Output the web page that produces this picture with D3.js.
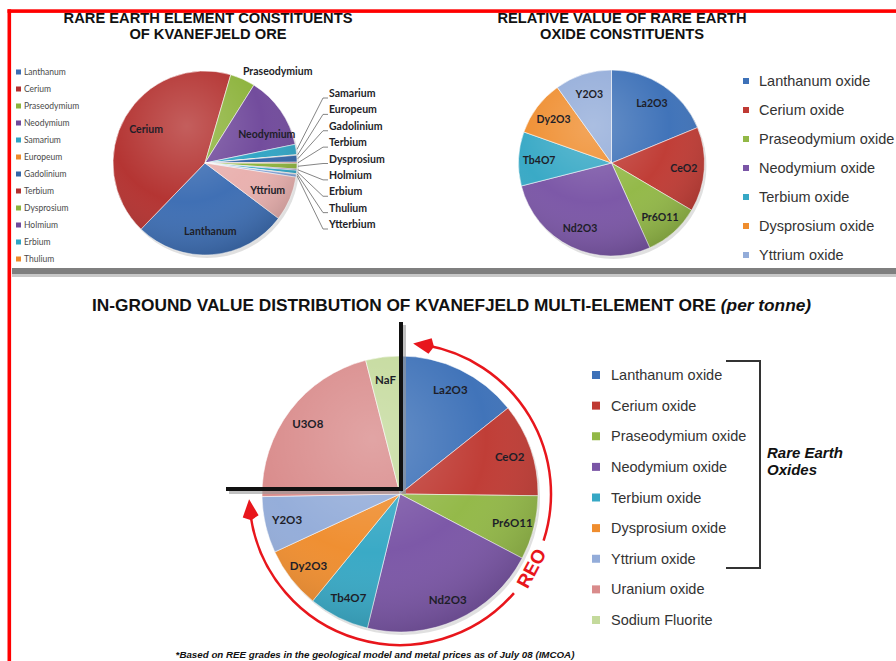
<!DOCTYPE html>
<html>
<head>
<meta charset="utf-8">
<script src="https://cdn.jsdelivr.net/npm/d3@7"></script>
<style>
  body { margin: 0; background: #fff; }
  svg { display: block; }
</style>
</head>
<body>
<div id="chart"></div>
<script>
// ---- data ----
const elements = ["Lanthanum", "Cerium", "Praseodymium", "Neodymium", "Samarium", "Europeum", "Gadolinium",
    "Terbium", "Dysprosium", "Holmium", "Erbium", "Thulium", "Ytterbium", "Yttrium"];
const elementShare = [26.9, 42.2, 4.4, 12.8, 1.8, 0.1, 1.2, 0.2, 1.0, 0.2, 0.6, 0.1, 0.5, 7.8];
const elementLegend = elements.slice(0, 12); // legend is cut off after Thulium
const calloutElements = elements.slice(4, 13);

const oxideCodes = ["La2O3", "CeO2", "Pr6O11", "Nd2O3", "Tb4O7", "Dy2O3", "Y2O3"];
const oxideNames = ["Lanthanum oxide", "Cerium oxide", "Praseodymium oxide", "Neodymium oxide",
    "Terbium oxide", "Dysprosium oxide", "Yttrium oxide"];
const oxideValue = [18.8, 14.7, 9.8, 27.8, 9.4, 9.7, 9.9];

const oreCodes = ["La2O3", "CeO2", "Pr6O11", "Nd2O3", "Tb4O7", "Dy2O3", "Y2O3", "U3O8", "NaF"];
const oreNames = ["Lanthanum oxide", "Cerium oxide", "Praseodymium oxide", "Neodymium oxide",
    "Terbium oxide", "Dysprosium oxide", "Yttrium oxide", "Uranium oxide", "Sodium Fluorite"];
const oreValue = [14.3, 10.9, 7.5, 21.1, 7.1, 7.2, 6.6, 21.3, 4.0];

// ---- colours ----
const elementColors = ["#3c6db3", "#b3312f", "#8db33c", "#70499b", "#2fa4c4", "#ee8a2b", "#3465a8",
    "#b3312f", "#8db33c", "#70499b", "#2fa4c4", "#ee8a2b", "#7d9fd6", "#e9b0ae"];
const oxideColors = ["#3d71b8", "#bf3a33", "#92b846", "#7a55a6", "#36a8c5", "#ef8d2e", "#93acd9"];
const oreColors = oxideColors.concat(["#d98b8b", "#c4da9c"]);

const width = 896;
const height = 661;
const arial = "'Liberation Sans', Arial, sans-serif";
const calibri = "Lato, 'Open Sans', sans-serif";
const deg = Math.PI / 180;

const svg = d3.select('#chart')
    .append('svg')
    .attr('width', width)
    .attr('height', height)

const defs = svg.append('defs');
const gloss = defs.append('radialGradient').attr('id', 'gloss')
    .attr('cx', '40%').attr('cy', '30%').attr('r', '75%');
gloss.append('stop').attr('offset', '0%').attr('stop-color', '#fff').attr('stop-opacity', 0.22);
gloss.append('stop').attr('offset', '55%').attr('stop-color', '#fff').attr('stop-opacity', 0.02);
gloss.append('stop').attr('offset', '100%').attr('stop-color', '#000').attr('stop-opacity', 0.18);

// point on a circle, angle clockwise from 12 o'clock
function polar(cx, cy, r, a) {
    return [cx + r * Math.sin(a), cy - r * Math.cos(a)];
}

function drawPie(values, colors, cx, cy, r, start) {
    const arcs = d3.pie().sort(null)
        .startAngle(start * deg)
        .endAngle(start * deg + 2 * Math.PI)(values);
    const g = svg.append('g').attr('transform', `translate(${cx},${cy})`);
    const arc = d3.arc().innerRadius(0).outerRadius(r);
    g.append('circle').attr('cx', 2).attr('cy', 3).attr('r', r)
        .attr('fill', '#000').attr('opacity', 0.12);
    g.selectAll('path.slice')
        .data(arcs)
        .enter()
        .append('path')
        .attr('class', 'slice')
        .attr('d', arc)
        .attr('fill', (d, i) => colors[i])
        .attr('stroke', 'rgba(255,255,255,0.55)')
        .attr('stroke-width', 1)
    g.append('circle').attr('r', r).attr('fill', 'url(#gloss)');
    return { arcs, g };
}

// label at the middle angle of each slice; shift (degrees) nudges a label round the pie
function pieLabels(pie, texts, r, size, keep, shift = {}) {
    const pos = d => polar(0, 0, r, (d.startAngle + d.endAngle) / 2 + (shift[d.index] || 0) * deg);
    pie.g.selectAll('text.lbl')
        .data(pie.arcs.filter((d, i) => keep(i)))
        .enter()
        .append('text')
        .attr('x', d => pos(d)[0])
        .attr('y', d => pos(d)[1])
        .attr('text-anchor', 'middle')
        .attr('dominant-baseline', 'central')
        .attr('font-family', calibri)
        .attr('font-weight', 'bold')
        .attr('font-size', size)
        .attr('fill', '#1e1e28')
        .text(d => texts[d.index])
}

function legend(names, colors, x, y0, y1, box, size, fam, fill) {
    const y = d3.scalePoint().domain(names).range([y0, y1]);
    const g = svg.append('g');
    g.selectAll('rect')
        .data(names)
        .enter()
        .append('rect')
        .attr('x', x)
        .attr('y', d => y(d) - box / 2)
        .attr('width', box)
        .attr('height', box)
        .attr('fill', (d, i) => colors[i])
    g.selectAll('text')
        .data(names)
        .enter()
        .append('text')
        .attr('x', x + box + (box > 6 ? 11 : box > 5 ? 10 : 3))
        .attr('y', d => y(d))
        .attr('dominant-baseline', 'central')
        .attr('font-family', fam)
        .attr('font-size', size)
        .attr('fill', fill)
        .text(d => d)
}

function title(lines, x, y, size) {
    svg.selectAll(null)
        .data(lines)
        .enter()
        .append('text')
        .attr('x', x)
        .attr('y', (d, i) => y + i * 16.5)
        .attr('text-anchor', 'middle')
        .attr('font-family', arial)
        .attr('font-weight', 'bold')
        .attr('font-size', size)
        .attr('fill', '#111')
        .text(d => d)
}

// ---- frame ----
svg.append('rect').attr('x', 7.5).attr('y', 9.3).attr('width', width).attr('height', 3.6).attr('fill', '#ff0000');
svg.append('rect').attr('x', 7.5).attr('y', 9.3).attr('width', 3.6).attr('height', height).attr('fill', '#ff0000');
svg.append('rect').attr('x', 12).attr('y', 268).attr('width', width).attr('height', 6).attr('fill', '#7f7f7f');
svg.append('rect').attr('x', 12).attr('y', 274).attr('width', width).attr('height', 3).attr('fill', '#c8c8c8');

// ---- chart 1: element constituents ----
title(["RARE EARTH ELEMENT CONSTITUENTS", "OF KVANEFJELD ORE"], 208, 22.8, 14.7);
legend(elementLegend, elementColors, 16, 72, 259, 5, 8.5, calibri, '#4a4a4a');
const c1 = { x: 205, y: 163, r: 92 };
const pie1 = drawPie(elementShare, elementColors, c1.x, c1.y, c1.r, 127);
// big slices get inside labels
pieLabels(pie1, elements, c1.r * 0.74, 10.5, i => [0, 1, 3, 13].includes(i), { 3: 10 });
// Praseodymium sits just outside its slice
const pr = pie1.arcs[2];
const prPos = polar(0, 0, c1.r * 1.06, (pr.startAngle + pr.endAngle) / 2);
pie1.g.append('text')
    .attr('x', prPos[0] - 2).attr('y', prPos[1] + 1)
    .attr('font-family', calibri).attr('font-weight', 'bold').attr('font-size', 10.5)
    .attr('fill', '#1e1e28')
    .text(elements[2])
// callouts for the small slices
const calloutY = d3.scalePoint().domain(calloutElements).range([93, 224]);
const smallArcs = pie1.arcs.slice(4, 13);
svg.append('g').selectAll('path')
    .data(smallArcs)
    .enter()
    .append('path')
    .attr('d', d => {
        const p = polar(c1.x, c1.y, c1.r + 1, (d.startAngle + d.endAngle) / 2);
        const ly = calloutY(elements[d.index]) + 5;
        return d3.line()([p, [323, ly], [328, ly]]);
    })
    .attr('fill', 'none')
    .attr('stroke', '#666')
    .attr('stroke-width', 0.8)
svg.append('g').selectAll('text')
    .data(calloutElements)
    .enter()
    .append('text')
    .attr('x', 329)
    .attr('y', d => calloutY(d))
    .attr('dominant-baseline', 'central')
    .attr('font-family', calibri)
    .attr('font-weight', 'bold')
    .attr('font-size', 10.5)
    .attr('fill', '#1e1e28')
    .text(d => d)

// ---- chart 2: relative value of oxides ----
title(["RELATIVE VALUE OF RARE EARTH", "OXIDE CONSTITUENTS"], 622, 22.8, 14.7);
const pie2 = drawPie(oxideValue, oxideColors, 611.5, 163, 93, 0);
pieLabels(pie2, oxideCodes, 93 * 0.78, 10.5, () => true);
legend(oxideNames, oxideColors, 743, 81, 255, 6, 14.5, arial, '#333');

// ---- chart 3: in-ground value ----
const t3 = svg.append('text')
    .attr('x', 92).attr('y', 311)
    .attr('font-family', arial).attr('font-weight', 'bold').attr('font-size', 17.3)
    .attr('fill', '#111');
t3.append('tspan').text('IN-GROUND VALUE DISTRIBUTION OF KVANEFJELD MULTI-ELEMENT ORE ');
t3.append('tspan').attr('font-style', 'italic').text('(per tonne)');

const c3 = { x: 400, y: 494, r: 138 };
const pie3 = drawPie(oreValue, oreColors, c3.x, c3.y, c3.r, 0);
pieLabels(pie3, oreCodes, c3.r * 0.84, 11.5, () => true);

// black quadrant axes with shadow
const axes = [[[401, 322], [401, 491]], [[226, 489], [403, 489]]];
svg.append('g').selectAll('path')
    .data(axes)
    .enter()
    .append('path')
    .attr('d', d => d3.line()(d.map(p => [p[0] + 3, p[1] + 3])))
    .attr('stroke', '#999').attr('stroke-width', 4).attr('opacity', 0.6)
svg.append('g').selectAll('path')
    .data(axes)
    .enter()
    .append('path')
    .attr('d', d => d3.line()(d))
    .attr('stroke', '#111').attr('stroke-width', 4)

// red REO arrows around the rare earth slices
const red = '#e8161c';
const ar = 151;
function redArc(a0, a1) {
    const p = d3.path();
    p.arc(c3.x, c3.y, ar, (a0 - 90) * deg, (a1 - 90) * deg, a1 < a0);
    svg.append('path').attr('d', p.toString())
        .attr('fill', 'none').attr('stroke', red).attr('stroke-width', 2.5);
}
function arrowHead(tip, base) {
    const pts = [polar(c3.x, c3.y, ar, tip * deg),
        polar(c3.x, c3.y, ar + 8, base * deg),
        polar(c3.x, c3.y, ar, (base + (tip > base ? -1.5 : 1.5)) * deg),
        polar(c3.x, c3.y, ar - 8, base * deg)];
    svg.append('path').attr('d', d3.line()(pts) + 'Z').attr('fill', red);
}
redArc(108, 10);
arrowHead(5, 11.5);
redArc(131, 262);
arrowHead(268, 261.5);
const reoPos = polar(c3.x, c3.y, ar, 119.5 * deg);
svg.append('text')
    .attr('transform', `translate(${reoPos[0]},${reoPos[1]}) rotate(-62)`)
    .attr('text-anchor', 'middle')
    .attr('dominant-baseline', 'central')
    .attr('font-family', arial)
    .attr('font-weight', 'bold')
    .attr('font-size', 19)
    .attr('fill', red)
    .text('REO')

legend(oreNames, oreColors, 592, 375, 620, 8, 14.5, arial, '#333');

// bracket marking the rare earth oxides
svg.append('path')
    .attr('d', d3.line()([[726, 361], [760, 361], [760, 568], [726, 568]]))
    .attr('fill', 'none').attr('stroke', '#333').attr('stroke-width', 2)
svg.selectAll(null)
    .data(["Rare Earth", "Oxides"])
    .enter()
    .append('text')
    .attr('x', 767)
    .attr('y', (d, i) => 458 + i * 17)
    .attr('font-family', arial)
    .attr('font-weight', 'bold')
    .attr('font-style', 'italic')
    .attr('font-size', 15)
    .attr('fill', '#111')
    .text(d => d)

svg.append('text')
    .attr('x', 375).attr('y', 658)
    .attr('text-anchor', 'middle')
    .attr('font-family', arial).attr('font-weight', 'bold').attr('font-style', 'italic')
    .attr('font-size', 9.75).attr('fill', '#111')
    .text('*Based on REE grades in the geological model and metal prices as of July 08 (IMCOA)')
</script>
</body>
</html>
